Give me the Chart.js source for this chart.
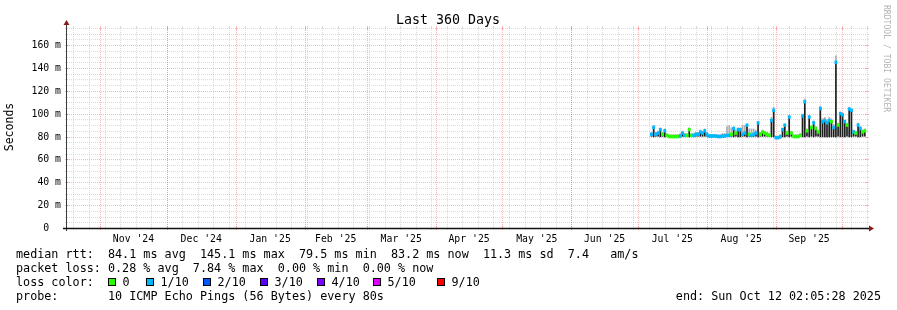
<!DOCTYPE html>
<html>
<head>
<meta charset="utf-8">
<title>Last 360 Days</title>
<script src="https://cdn.jsdelivr.net/npm/chart.js@4/dist/chart.umd.min.js"></script>
<style>
  html, body { margin: 0; padding: 0; background: #fff; }
  canvas { display: block; }
</style>
</head>
<body>
<canvas id="grafico" width="897" height="310" style="width:897px;height:310px"></canvas>
<script>
// time axis: days since start of the 360 day window
const endTime = Date.UTC(2025, 9, 12, 2, 5, 28);
const startTime = endTime - 360 * 864e5;
const startDay = 263; // first day with data (early Jul '25)

// median rtt per day (ms)
const median = [
  82, 88, 82, 83, 86, 82, 85, 81, 80, 80,          // 263-272
  80, 80, 80, 80.5, 83, 81, 81, 86, 81, 81,        // 273-282
  82, 82, 84, 83, 85, 82, 80.5, 80.5, 80.5, 80.5,  // 283-292
  80, 80, 80.5, 80.5, 81, 81, 82, 87, 83, 86,      // 293-302
  86, 82, 83, 90, 82, 81, 82, 83, 92, 82,          // 303-312
  84, 83, 82, 81, 94, 103, 79, 79, 80, 86,         // 313-322
  90, 83, 97, 83, 80, 80, 80, 81, 98, 110.5,       // 323-332
  85, 97, 88, 92, 87, 84, 104.5, 93, 94, 92,       // 333-342
  94, 93, 88, 145, 90, 100, 99, 93, 90, 104,       // 343-352
  103, 84, 83, 90, 87, 84, 85                      // 353-359
];
// smoke: lowest / highest ping per day (ms)
const rttLow = [
  80, 79.5, 80, 80, 79.5, 80, 79.5, 80, 79.5, 79.5,
  79.5, 79.5, 79.5, 79.5, 80, 80, 80, 79.5, 80, 80,
  80, 80, 80, 80, 80, 80, 79.5, 79.5, 79.5, 79.5,
  79.5, 79.5, 79.5, 79.5, 80, 80, 80, 79.5, 80, 79.5,
  79.5, 80, 80, 79.5, 80, 80, 80, 80, 79.5, 80,
  80, 80, 80, 80, 79.5, 79.5, 78.5, 78.5, 78.5, 79.5,
  79.5, 80, 79.5, 80, 79.5, 79.5, 79.5, 80, 79.5, 79.5,
  80, 79.5, 80, 79.5, 80, 80, 79.5, 79.5, 79.5, 79.5,
  79.5, 79.5, 79.5, 79.5, 80, 79.5, 79.5, 79.5, 80, 79.5,
  79.5, 80, 80, 79.5, 79.5, 80, 80
];
const rttHigh = [
  84, 90, 84, 85, 88, 84, 87, 83, 82, 82,
  82, 82, 82, 83, 85, 83, 83, 88, 83, 83,
  84, 84, 86, 85, 87, 84, 82, 82, 82, 82,
  82, 82, 83, 83, 89, 90, 88, 89, 86, 88,
  88, 90, 90, 91, 87, 87, 87, 86, 93, 84,
  86, 85, 84, 83, 97, 106, 81, 81, 82, 88,
  91, 85, 99, 85, 82, 82, 82, 83, 100, 113,
  87, 99, 90, 94, 89, 86, 107, 96, 97, 95,
  97, 96, 91, 151, 92, 102, 101, 95, 92, 106,
  105, 86, 85, 92, 89, 86, 87
];
// packet loss per day (x/10 pings lost)
const lossTenths = [
  1, 1, 1, 1, 1, 0, 1, 0, 0, 0,
  0, 0, 0, 1, 1, 1, 0, 0, 0, 1,
  1, 1, 1, 1, 1, 1, 1, 1, 1, 1,
  1, 1, 1, 1, 1, 1, 0, 1, 0, 1,
  1, 1, 1, 1, 0, 1, 1, 1, 1, 0,
  0, 0, 0, 0, 1, 1, 1, 1, 1, 1,
  1, 0, 1, 0, 0, 0, 0, 0, 1, 1,
  0, 1, 0, 1, 0, 0, 1, 1, 1, 1,
  1, 0, 1, 1, 0, 1, 1, 1, 0, 1,
  1, 1, 0, 1, 1, 0, 0
];

const lossLevels = [0, 1, 2, 3, 4, 5, 9];
const lossLabels = ['0', '1/10', '2/10', '3/10', '4/10', '5/10', '9/10'];
const lossColors = ['#26ff00', '#00b8ff', '#0059ff', '#5e00ff', '#7e00ff', '#dd00ff', '#ff0000'];

const yTicks = [0, 20, 40, 60, 80, 100, 120, 140, 160];
const yTickLabels = ['0', '20 m', '40 m', '60 m', '80 m', '100 m', '120 m', '140 m', '160 m'];
const monthLabels = ["Nov '24", "Dec '24", "Jan '25", "Feb '25", "Mar '25", "Apr '25", "May '25", "Jun '25", "Jul '25", "Aug '25", "Sep '25"];

const statLines = [
  'median rtt:  84.1 ms avg  145.1 ms max  79.5 ms min  83.2 ms now  11.3 ms sd  7.4   am/s',
  'packet loss: 0.28 % avg  7.84 % max  0.00 % min  0.00 % now',
  'loss color:',
  'probe:       10 ICMP Echo Pings (56 Bytes) every 80s'
];
const endLabel = 'end: Sun Oct 12 02:05:28 2025';

const FONT = '"DejaVu Sans Mono", monospace';
const toDay = t => (t - startTime) / 864e5;

// month boundaries Nov 1 '24 .. Oct 1 '25
const monthStarts = [];
for (let m = 10; m <= 21; m++) monthStarts.push(toDay(Date.UTC(2024, m, 1)));
// weekly minor grid on sundays
const weekLines = [];
for (let t = Date.UTC(2024, 9, 20); t < endTime; t += 7 * 864e5) weekLines.push(toDay(t));

const days = median.map((_, i) => startDay + i);
const smokeData = days.map((d, i) => ({ x: d, y: [rttLow[i], rttHigh[i]] }));
const coreData = days.map((d, i) => ({ x: d, y: [rttLow[i], median[i]] }));
const medianData = days.map((d, i) => ({ x: d, y: [median[i] - 1.2, median[i] + 1.2] }));
const medianColors = lossTenths.map(l => lossColors[lossLevels.indexOf(l)]);

const GRID = 'rgba(143,143,143,0.32)';
const MGRID = 'rgba(244,68,68,0.38)';

const rrdLayout = {
  id: 'rrdLayout',
  beforeDatasetsDraw(chart) {
    const { ctx, chartArea: a, scales: { x, y } } = chart;
    ctx.save();
    ctx.lineWidth = 1;
    // horizontal grid, minor every 5 ms, major every 20 ms
    for (let v = 0; v <= 175; v += 5) {
      const py = Math.round(y.getPixelForValue(v)) + 0.5;
      const major = v % 20 === 0;
      ctx.strokeStyle = major ? MGRID : GRID;
      ctx.setLineDash([]);
      ctx.beginPath();
      ctx.moveTo(a.left - 2, py); ctx.lineTo(a.left + (major ? 2 : 0), py);
      ctx.moveTo(a.right - (major ? 2 : 0), py); ctx.lineTo(a.right + 2, py);
      ctx.stroke();
      ctx.setLineDash([1, 1]);
      ctx.beginPath();
      ctx.moveTo(a.left, py); ctx.lineTo(a.right, py);
      ctx.stroke();
    }
    // vertical grid: weeks (minor), months (major)
    const vline = (d, color, major) => {
      if (d <= 0 || d >= 360) return;
      const px = Math.round(x.getPixelForValue(d)) + 0.5;
      ctx.strokeStyle = color;
      ctx.setLineDash([]);
      ctx.beginPath();
      ctx.moveTo(px, a.top - 2); ctx.lineTo(px, a.top + (major ? 2 : 0));
      ctx.moveTo(px, a.bottom - (major ? 2 : 0)); ctx.lineTo(px, a.bottom + 2);
      ctx.stroke();
      ctx.setLineDash([1, 1]);
      ctx.beginPath();
      ctx.moveTo(px, a.top); ctx.lineTo(px, a.bottom);
      ctx.stroke();
    };
    weekLines.forEach(d => vline(d, GRID, false));
    monthStarts.forEach(d => vline(d, MGRID, true));
    ctx.restore();
  },
  afterDatasetsDraw(chart) {
    const { ctx, chartArea: a } = chart;
    ctx.save();
    // axes
    ctx.setLineDash([]);
    ctx.lineWidth = 1;
    ctx.strokeStyle = '#3a3a3a';
    ctx.beginPath();
    ctx.moveTo(a.left - 0.5, a.bottom + 3); ctx.lineTo(a.left - 0.5, a.top - 4);
    ctx.stroke();
    ctx.strokeStyle = '#111';
    ctx.lineWidth = 1.4;
    ctx.beginPath();
    ctx.moveTo(a.left - 4, a.bottom + 0.5); ctx.lineTo(a.right + 3, a.bottom + 0.5);
    ctx.stroke();
    // arrows
    ctx.fillStyle = '#8b1a1a';
    ctx.beginPath();
    ctx.moveTo(a.left - 0.5, a.top - 8); ctx.lineTo(a.left - 3.5, a.top - 3); ctx.lineTo(a.left + 2.5, a.top - 3);
    ctx.closePath(); ctx.fill();
    ctx.beginPath();
    ctx.moveTo(a.right + 7, a.bottom + 0.5); ctx.lineTo(a.right + 2, a.bottom - 2.5); ctx.lineTo(a.right + 2, a.bottom + 3.5);
    ctx.closePath(); ctx.fill();
    ctx.restore();
  },
  afterDraw(chart) {
    const { ctx, chartArea: a, scales: { x, y } } = chart;
    ctx.save();
    ctx.fillStyle = '#000';
    // title
    ctx.font = '13.3px ' + FONT;
    ctx.textAlign = 'center';
    ctx.textBaseline = 'alphabetic';
    ctx.fillText('Last 360 Days', 448, 24);
    // y tick labels
    ctx.font = '9.8px ' + FONT;
    ctx.textAlign = 'right';
    ctx.textBaseline = 'middle';
    yTicks.forEach((v, i) => {
      const lbl = yTickLabels[i].includes(' ') ? yTickLabels[i] : yTickLabels[i] + '  ';
      ctx.fillText(lbl, a.left - 6, Math.round(y.getPixelForValue(v)) + 0.5);
    });
    // month labels, centred in their month
    ctx.textAlign = 'center';
    ctx.textBaseline = 'alphabetic';
    monthLabels.forEach((lbl, i) => {
      const mid = (monthStarts[i] + monthStarts[i + 1]) / 2;
      ctx.fillText(lbl, x.getPixelForValue(mid), 242);
    });
    // y axis title
    ctx.font = '11.5px ' + FONT;
    ctx.save();
    ctx.translate(10, 127);
    ctx.rotate(-Math.PI / 2);
    ctx.textBaseline = 'middle';
    ctx.fillText('Seconds', 0, 0);
    ctx.restore();
    // watermark
    ctx.save();
    ctx.font = '8.1px ' + FONT;
    ctx.fillStyle = '#b4b4b4';
    ctx.translate(886, 5);
    ctx.rotate(Math.PI / 2);
    ctx.textAlign = 'left';
    ctx.textBaseline = 'middle';
    ctx.fillText('RRDTOOL / TOBI OETIKER', 0, 0);
    ctx.restore();
    // legend
    ctx.font = '11.75px ' + FONT;
    ctx.textAlign = 'left';
    ctx.textBaseline = 'alphabetic';
    const rows = [258, 272, 286, 300];
    statLines.forEach((s, i) => ctx.fillText(s, 16, rows[i]));
    const swatchX = [108, 146, 203, 260, 317, 373, 437];
    lossLabels.forEach((lbl, i) => {
      ctx.fillStyle = lossColors[i];
      ctx.fillRect(swatchX[i] + 0.5, 278.5, 7, 7);
      ctx.strokeStyle = '#000';
      ctx.lineWidth = 1;
      ctx.strokeRect(swatchX[i] + 0.5, 278.5, 7, 7);
      ctx.fillStyle = '#000';
      ctx.fillText(lbl, swatchX[i] + 14.5, 286);
    });
    ctx.textAlign = 'right';
    ctx.fillText(endLabel, 881, 300);
    ctx.restore();
  }
};

new Chart(document.getElementById('grafico'), {
  type: 'bar',
  data: {
    datasets: [
      { label: 'median', data: medianData, backgroundColor: medianColors, order: 1 },
      { label: 'smoke core', data: coreData, backgroundColor: '#1e1e1e', barPercentage: 0.7, order: 2 },
      { label: 'smoke', data: smokeData, backgroundColor: '#b0b0b0', barPercentage: 0.8, order: 3 }
    ]
  },
  options: {
    responsive: false,
    devicePixelRatio: 1,
    animation: false,
    layout: { padding: { left: 67, right: 30, top: 28, bottom: 82 } },
    datasets: { bar: { grouped: false, barPercentage: 1, categoryPercentage: 1, borderWidth: 0 } },
    scales: {
      x: { type: 'linear', min: 0, max: 360, offset: false, display: false },
      y: { type: 'linear', min: 0, max: 175, display: false }
    },
    plugins: { legend: { display: false }, tooltip: { enabled: false } }
  },
  plugins: [rrdLayout]
});
</script>
</body>
</html>
